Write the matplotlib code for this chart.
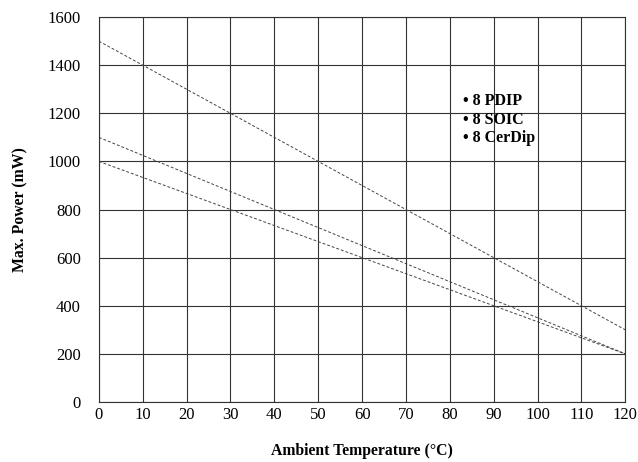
import matplotlib
matplotlib.use("Agg")
import matplotlib.pyplot as plt

plt.rcParams["font.family"] = "Liberation Serif"

# Datos
temp = [0, 120]
pdip = [1500, 300]
soic = [1100, 200]
cerdip = [1000, 200]
labels = ["8 PDIP", "8 SOIC", "8 CerDip"]
label_y = [1250, 1172, 1097]
xticks = list(range(0, 121, 10))
yticks = list(range(0, 1601, 200))

fig = plt.figure(figsize=(6.38, 4.62), dpi=100)
ax = fig.add_axes([0.155, 0.130, 0.825, 0.833])

for serie in (pdip, soic, cerdip):
    ax.plot(temp, serie, linestyle=(0, (3, 2)), color='#444444', linewidth=0.7)

for lab, yy in zip(labels, label_y):
    ax.text(83, yy, "\u2022 " + lab, fontsize=11.5, fontweight='bold', va='center', ha='left')

ax.set_xlim(0, 120)
ax.set_ylim(0, 1600)
ax.set_xticks(xticks)
ax.set_yticks(yticks)
ax.tick_params(length=0, labelsize=12)
ax.tick_params(axis='x', pad=4)
ax.tick_params(axis='y', pad=13)
ax.grid(True, color='#333333', linewidth=0.8)
for s in ax.spines.values():
    s.set_color('#333333')
    s.set_linewidth(0.8)

ax.set_xlabel('Ambient Temperature (°C)', fontsize=11.3, fontweight='bold', labelpad=14)
ax.set_ylabel('Max. Power (mW)', fontsize=11.3, fontweight='bold', labelpad=14)

plt.savefig('out.png', dpi=100)
